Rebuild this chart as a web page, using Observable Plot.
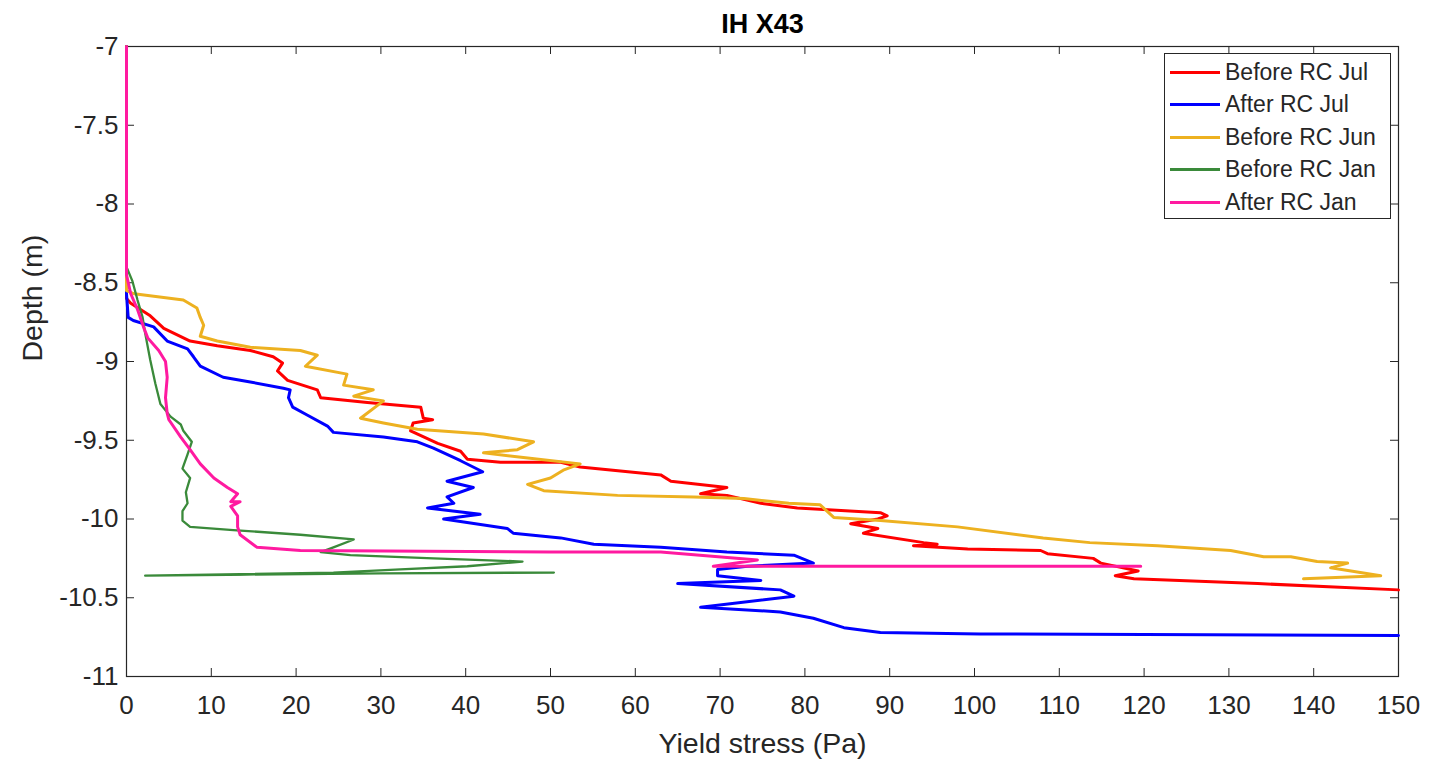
<!DOCTYPE html>
<html><head><meta charset="utf-8">
<script src="https://cdn.jsdelivr.net/npm/d3@7"></script>
<script src="https://cdn.jsdelivr.net/npm/@observablehq/plot@0.6"></script>
<style>
body{margin:0;background:#fff;}
#wrap{position:relative;width:1436px;height:760px;font-family:"Liberation Sans",Arial,Helvetica,sans-serif;}
#legend{position:absolute;left:1164px;top:53px;width:227px;height:166px;border:1px solid #262626;background:#fff;box-sizing:border-box;}
.row{position:absolute;left:5px;height:30px;display:flex;align-items:center;}
.sw{width:50px;height:0;border-top:3px solid;margin-right:5px;}
.lab{font-size:23px;color:#262626;white-space:nowrap;}
</style></head><body><div id="wrap"></div>
<script>
// ---- data (Yield stress in Pa, Depth in m) ----
const seriesNames = ["Before RC Jul", "After RC Jul", "Before RC Jun", "Before RC Jan", "After RC Jan"];
const seriesColors = ["#ff0000", "#0000ff", "#edb120", "#3a8a3a", "#ff1aa0"];
const seriesWidths = [3, 3, 3, 2.3, 3];

const redX = [0,0,0.5,2.8,4.4,7.5,10.7,14.6,17.3,18.4,17.8,19,22.5,22.9,28.4,34.7,35,36.1,33.8,33.5,36.7,39.4,40.2,44.1,51.2,53.5,63,64.2,70.8,67.7,70.8,74.8,79.1,82.2,88.9,89.7,88.6,85.4,88.6,86.9,94,95.6,92.8,99.2,107.8,108.6,114,114.9,119.3,116.6,118.8,133.4,150];
const redY = [-7,-8.6,-8.63,-8.71,-8.79,-8.87,-8.90,-8.93,-8.97,-9.01,-9.06,-9.12,-9.18,-9.23,-9.26,-9.29,-9.36,-9.37,-9.39,-9.44,-9.52,-9.57,-9.62,-9.64,-9.64,-9.67,-9.72,-9.76,-9.80,-9.84,-9.85,-9.90,-9.93,-9.94,-9.96,-9.98,-10.0,-10.03,-10.06,-10.09,-10.15,-10.16,-10.17,-10.19,-10.20,-10.22,-10.25,-10.28,-10.33,-10.36,-10.38,-10.41,-10.45];

const blueX = [0,0,0.2,0.8,3.2,4.8,7.2,7.9,8.7,11.4,14.6,18.5,19.3,19.1,19.6,21.3,23.7,24.4,30.3,34.3,36.2,39.4,42,37.8,40.9,37.8,38.6,35.5,41.7,37.4,44.9,45.6,51.2,55.1,63,70.8,78.7,81,73.2,69.7,69.7,74.8,65,77.1,78.7,67.7,77.1,81,84.6,88.9,100.7,150];
const blueY = [-7,-8.57,-8.72,-8.74,-8.78,-8.87,-8.92,-8.97,-9.03,-9.10,-9.13,-9.17,-9.18,-9.23,-9.29,-9.34,-9.41,-9.45,-9.48,-9.51,-9.55,-9.63,-9.70,-9.76,-9.80,-9.86,-9.90,-9.93,-9.97,-10.0,-10.06,-10.09,-10.12,-10.16,-10.18,-10.21,-10.23,-10.28,-10.30,-10.32,-10.36,-10.39,-10.41,-10.45,-10.49,-10.56,-10.59,-10.63,-10.69,-10.72,-10.73,-10.74];

const orangeX = [0,0,0.9,6.7,8.3,8.7,9.1,8.7,10.7,14.6,20.5,22.5,21.1,26,25.6,29.1,26.8,30.3,27.6,30.3,34.3,42.1,48,46.1,42.1,46.8,53.5,51.5,50,47.3,49.2,57.9,66.9,72.8,78.1,81.8,83.4,88.9,98,108.1,113.6,121.6,130.2,134.1,137.3,140.4,144,142,147.9,138.8];
const orangeY = [-7,-8.55,-8.57,-8.61,-8.66,-8.72,-8.77,-8.84,-8.87,-8.91,-8.93,-8.96,-9.03,-9.08,-9.15,-9.18,-9.22,-9.25,-9.36,-9.39,-9.43,-9.46,-9.51,-9.56,-9.58,-9.61,-9.65,-9.69,-9.74,-9.78,-9.82,-9.85,-9.86,-9.87,-9.90,-9.91,-9.99,-10.01,-10.05,-10.12,-10.15,-10.17,-10.20,-10.24,-10.24,-10.27,-10.28,-10.31,-10.36,-10.38];

const greenX = [0,0,0.7,1.3,1.9,2.2,2.8,3.4,4,5.2,6.4,6.7,7.7,7.2,6.6,7.5,7,7.2,6.6,6.6,7.5,12.6,20.5,26.8,24.4,22.9,26.4,36.2,46.7,40.2,32.3,24.4,2.2,30,50.4];
const greenY = [-7,-8.40,-8.49,-8.61,-8.72,-8.82,-8.99,-9.14,-9.27,-9.35,-9.40,-9.44,-9.51,-9.59,-9.68,-9.74,-9.83,-9.90,-9.95,-10.01,-10.05,-10.07,-10.10,-10.13,-10.18,-10.21,-10.23,-10.25,-10.27,-10.30,-10.32,-10.34,-10.36,-10.345,-10.34];

const pinkX = [0,0,0.5,1.3,2,2.5,3.8,4.6,4.8,4.6,4.8,5,6.4,7.5,8.7,10.3,11.9,13.1,12.3,13.4,12.3,13.1,13.1,13.4,15.4,20.5,50,63,74.4,69.2,119.6];
const pinkY = [-7,-8.45,-8.57,-8.67,-8.78,-8.85,-8.93,-9.0,-9.10,-9.23,-9.33,-9.37,-9.48,-9.56,-9.65,-9.74,-9.80,-9.84,-9.89,-9.89,-9.92,-9.98,-10.05,-10.10,-10.18,-10.20,-10.21,-10.21,-10.26,-10.30,-10.30];

const xTicks = [0,10,20,30,40,50,60,70,80,90,100,110,120,130,140,150];
const yTicks = [-7,-7.5,-8,-8.5,-9,-9.5,-10,-10.5,-11];
const titleText = "IH X43";
const xLabel = "Yield stress (Pa)";
const yLabel = "Depth (m)";

// ---- build tidy table ----
const seriesX = [redX, blueX, orangeX, greenX, pinkX];
const seriesY = [redY, blueY, orangeY, greenY, pinkY];
const rows = [];
seriesNames.forEach((name, i) => {
  seriesX[i].forEach((x, j) => rows.push({series: name, x, y: seriesY[i][j]}));
});

const W = 1436, H = 760, mL = 126, mR = 38, mT = 46, mB = 84;
const innerW = W - mL - mR, innerH = H - mT - mB;
const ink = "#262626";

const lineMarks = seriesNames.map((name, i) =>
  Plot.line(rows.filter(r => r.series === name), {x: "x", y: "y", stroke: seriesColors[i], strokeWidth: seriesWidths[i], strokeLinejoin: "round", strokeLinecap: "round"})
);

const chart = Plot.plot({
  width: W, height: H,
  marginLeft: mL, marginRight: mR, marginTop: mT, marginBottom: mB,
  style: {fontFamily: "'Liberation Sans', Arial, Helvetica, sans-serif", background: "#fff", color: ink},
  x: {domain: [0, 150]},
  y: {domain: [-11, -7]},
  marks: [
    Plot.frame({stroke: ink, strokeWidth: 1.2}),
    Plot.tickX(xTicks, {x: d => d, insetTop: innerH - 8, stroke: ink}),
    Plot.tickX(xTicks, {x: d => d, insetBottom: innerH - 8, stroke: ink}),
    Plot.tickY(yTicks, {y: d => d, insetLeft: innerW - 8, stroke: ink}),
    Plot.tickY(yTicks, {y: d => d, insetRight: innerW - 8, stroke: ink}),
    ...lineMarks,
    Plot.axisX(xTicks, {tickSize: 0, tickPadding: 19, fontSize: 26, label: null, tickFormat: d => String(d), fill: ink}),
    Plot.axisY(yTicks, {tickSize: 0, tickPadding: 8, fontSize: 26, label: null, tickFormat: d => String(d), fill: ink}),
    Plot.text([xLabel], {frameAnchor: "bottom", lineAnchor: "bottom", dy: 76, fontSize: 28.5, fill: ink}),
    Plot.text([yLabel], {frameAnchor: "left", rotate: -90, dx: -94, fontSize: 28.5, fill: ink}),
    Plot.text([titleText], {frameAnchor: "top", lineAnchor: "bottom", dy: -14, fontSize: 27, fontWeight: "bold", fill: "#000"})
  ]
});

const wrap = document.getElementById("wrap");
wrap.appendChild(chart);

// legend
const legend = document.createElement("div");
legend.id = "legend";
const rowTops = [3, 35.5, 68, 100.5, 133];
seriesNames.forEach((name, i) => {
  const row = document.createElement("div");
  row.className = "row";
  row.style.top = rowTops[i] + "px";
  const sw = document.createElement("div");
  sw.className = "sw";
  sw.style.borderTopColor = seriesColors[i];
  const lab = document.createElement("span");
  lab.className = "lab";
  lab.textContent = name;
  row.appendChild(sw); row.appendChild(lab);
  legend.appendChild(row);
});
wrap.appendChild(legend);
</script>
</body></html>
